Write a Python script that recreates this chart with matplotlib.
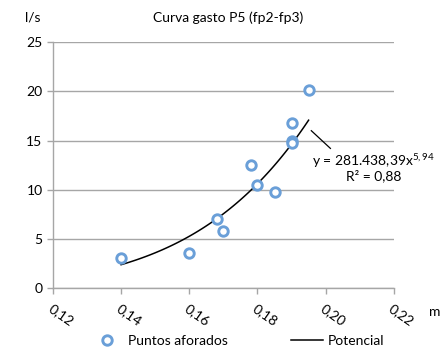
import numpy as np
import matplotlib.pyplot as plt

plt.rcParams['font.family'] = ['Lato', 'DejaVu Sans']
plt.rcParams['mathtext.fontset'] = 'custom'
plt.rcParams['mathtext.rm'] = 'Lato'

# measured points
h_m = [0.14, 0.16, 0.168, 0.17, 0.178, 0.18, 0.185, 0.19, 0.19, 0.19, 0.195]
q_ls = [3.1, 3.6, 7.0, 5.8, 12.5, 10.5, 9.8, 16.8, 15.0, 14.8, 20.1]

# power fit y = a x^b
a = 281438.39
b = 5.94
x_fit = np.linspace(0.14, 0.195, 100)
y_fit = a * x_fit ** b

fig = plt.figure(figsize=(4.41, 3.54), dpi=100)
ax = fig.add_axes([0.120, 0.186, 0.773, 0.695])

ax.plot(h_m, q_ls, 'o', ms=6.8, mfc='white', mec='#6a9fd8', mew=2.1,
        label='Puntos aforados', zorder=3)
ax.plot(x_fit, y_fit, color='black', lw=1.1, label='Potencial', zorder=2)

ax.set_xlim(0.12, 0.22)
ax.set_ylim(0, 25)
ax.set_xticks(np.arange(0.12, 0.2201, 0.02))
ax.set_xticklabels(['0,12', '0,14', '0,16', '0,18', '0,20', '0,22'],
                   rotation=-35, ha='left', va='top', rotation_mode='anchor')
ax.set_yticks([0, 5, 10, 15, 20, 25])
ax.grid(axis='y', color='#a6a6a6', lw=1)
ax.set_axisbelow(True)
for s in ['top', 'right']:
    ax.spines[s].set_visible(False)
for s in ['left', 'bottom']:
    ax.spines[s].set_color('#a6a6a6')
    ax.spines[s].set_linewidth(1)
ax.tick_params(colors='#a6a6a6', labelcolor='black', labelsize=10,
               length=4, width=1)
ax.tick_params(axis='x', pad=6)

fig.text(0.517, 0.95, 'Curva gasto P5 (fp2-fp3)', ha='center', va='center',
         fontsize=10)
fig.text(0.075, 0.95, 'l/s', ha='center', va='center', fontsize=10)
fig.text(0.985, 0.118, 'm', ha='center', va='center', fontsize=10)

ax.text(0.2141, 13.0, 'y = 281.438,39x$^{5,94}$', ha='center', va='center',
        fontsize=10)
ax.text(0.2141, 11.4, 'R² = 0,88', ha='center', va='center', fontsize=10)
ax.plot([0.1958, 0.2014], [16.0, 14.2], color='black', lw=0.9, clip_on=False)

fig.legend(loc='lower center', bbox_to_anchor=(0.539, -0.015), ncol=2,
           frameon=False, fontsize=10, columnspacing=4.5, handlelength=2.3,
           handletextpad=0.36)

fig.savefig('out.png', dpi=100)
